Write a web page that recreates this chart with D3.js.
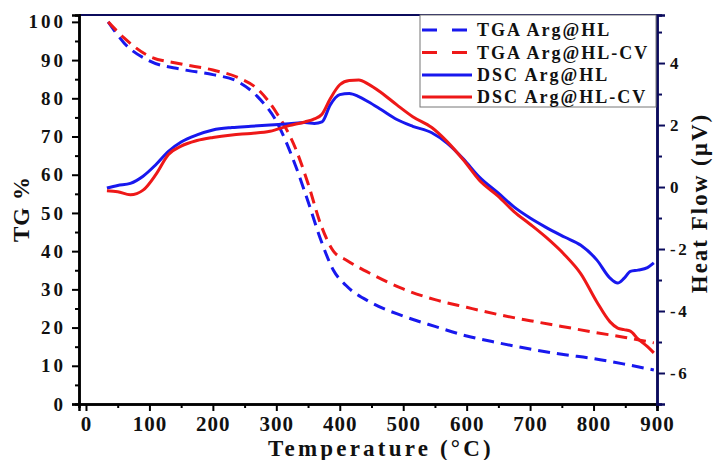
<!DOCTYPE html>
<html>
<head>
<meta charset="utf-8">
<script src="https://cdn.jsdelivr.net/npm/d3@7"></script>
<style>
  html, body { margin: 0; padding: 0; background: #fff; }
  svg { display: block; }
  text { font-family: "Liberation Serif", "Times New Roman", serif; font-weight: bold; fill: #111; }
</style>
</head>
<body>
<svg id="chart" width="713" height="460"></svg>
<script>
// TGA curves (left axis, TG %)
const tgaTemps = [35, 60, 100, 150, 200, 240, 270, 300, 330, 350, 370, 390, 410, 450, 500, 550, 600, 650, 700, 750, 800, 850, 895];
const tgaHL    = [100, 94.5, 89.8, 87.6, 86.2, 84.3, 80.5, 74, 62.5, 53, 43, 35, 31, 26.5, 23, 20.3, 17.8, 16, 14.4, 13, 11.9, 10.4, 8.9];
const tgaHLCV  = [100, 95.8, 91, 89, 87.4, 85.4, 82.5, 76.3, 67, 57.7, 47, 40, 37.7, 34, 30.1, 27.3, 25.3, 23.4, 21.8, 20.3, 18.8, 17.4, 16];

// DSC curves (right axis, heat flow in µV)
const dscTemps = [33, 50, 70, 90, 110, 130, 150, 175, 200, 230, 260, 290, 320, 345, 360, 372, 385, 400, 415, 430, 445, 465, 490, 515, 545, 570, 595, 620, 650, 675, 700, 725, 755, 780, 805, 826, 838, 848, 858, 870, 885, 895];
const dscHL    = [-0.03, 0.05, 0.12, 0.35, 0.72, 1.15, 1.45, 1.68, 1.84, 1.92, 1.96, 2.0, 2.04, 2.08, 2.05, 2.1, 2.65, 2.98, 3.02, 2.92, 2.75, 2.5, 2.18, 1.96, 1.75, 1.4, 0.9, 0.32, -0.2, -0.65, -1.0, -1.3, -1.62, -1.88, -2.35, -2.94, -3.1, -2.95, -2.72, -2.68, -2.6, -2.45];
const dscHLCV  = [-0.12, -0.15, -0.25, -0.1, 0.4, 1.05, 1.32, 1.5, 1.6, 1.68, 1.73, 1.8, 1.98, 2.1, 2.2, 2.35, 2.85, 3.3, 3.44, 3.45, 3.32, 3.05, 2.65, 2.27, 1.92, 1.45, 0.87, 0.22, -0.3, -0.8, -1.2, -1.62, -2.2, -2.8, -3.7, -4.35, -4.55, -4.6, -4.65, -4.9, -5.15, -5.35];

// Axis ticks
const xTicks = [0, 100, 200, 300, 400, 500, 600, 700, 800, 900];
const xMinor = [50, 150, 250, 350, 450, 550, 650, 750, 850];
const yLeftTicks = [0, 10, 20, 30, 40, 50, 60, 70, 80, 90, 100];
const yLeftMinor = [5, 15, 25, 35, 45, 55, 65, 75, 85, 95];
const yRightTicks = [-6, -4, -2, 0, 2, 4];
const yRightMinor = [-5, -3, -1, 1, 3, 5];

const seriesNames = ["TGA Arg@HL", "TGA Arg@HL-CV", "DSC Arg@HL", "DSC Arg@HL-CV"];

const BLUE = "#1818ee", RED = "#ee1818", NAVY = "#0b0b5c";

const svg = d3.select("#chart");
const plot = { left: 79, right: 657, top: 15, bottom: 404 };

const x = d3.scaleLinear().domain([-11, 900]).range([plot.left, plot.right]);
const yL = d3.scaleLinear().domain([0, 101.8]).range([plot.bottom, plot.top]);
const yR = d3.scaleLinear().domain([-7, 5.55]).range([plot.bottom, plot.top]);

// Curves
const tgaLine = (vals) => d3.line().x((d, i) => x(tgaTemps[i])).y(d => yL(d)).curve(d3.curveMonotoneX)(vals);
const dscLine = (vals) => d3.line().x((d, i) => x(dscTemps[i])).y(d => yR(d)).curve(d3.curveMonotoneX)(vals);

const series = [
  { name: seriesNames[0], d: tgaLine(tgaHL), color: BLUE, dash: "12,7" },
  { name: seriesNames[1], d: tgaLine(tgaHLCV), color: RED, dash: "12,7" },
  { name: seriesNames[2], d: dscLine(dscHL), color: BLUE, dash: null },
  { name: seriesNames[3], d: dscLine(dscHLCV), color: RED, dash: null }
];

svg.append("g").selectAll("path").data(series).join("path")
  .attr("d", s => s.d)
  .attr("fill", "none")
  .attr("stroke", s => s.color)
  .attr("stroke-width", 3)
  .attr("stroke-dasharray", s => s.dash)
  .attr("stroke-linejoin", "round");

// Frame: top edge in navy
svg.append("line").attr("x1", plot.left).attr("x2", plot.right).attr("y1", plot.top).attr("y2", plot.top)
  .attr("stroke", NAVY).attr("stroke-width", 2);

function styleAxis(g, color, width) {
  g.select(".domain").attr("stroke", color).attr("stroke-width", width);
  g.selectAll(".tick line").attr("stroke", color).attr("stroke-width", 2);
}

// Left axis
const gLm = svg.append("g").attr("transform", `translate(${plot.left},0)`)
  .call(d3.axisLeft(yL).tickValues(yLeftMinor).tickSize(4).tickFormat(""));
styleAxis(gLm, "#000", 2.5);
const gL = svg.append("g").attr("transform", `translate(${plot.left},0)`)
  .call(d3.axisLeft(yL).tickValues(yLeftTicks).tickSize(7).tickPadding(6).tickFormat(d3.format("d")));
styleAxis(gL, "#000", 2.5);
gL.selectAll(".tick text").attr("font-size", 19).attr("letter-spacing", 3).attr("fill", "#111")
  .attr("font-family", "Liberation Serif, serif").attr("font-weight", "bold");

// Bottom axis
const gBm = svg.append("g").attr("transform", `translate(0,${plot.bottom})`)
  .call(d3.axisBottom(x).tickValues(xMinor).tickSize(4).tickFormat(""));
styleAxis(gBm, "#000", 2.5);
const gB = svg.append("g").attr("transform", `translate(0,${plot.bottom})`)
  .call(d3.axisBottom(x).tickValues(xTicks).tickSize(7).tickPadding(5).tickFormat(d3.format("d")));
styleAxis(gB, "#000", 2.5);
gB.selectAll(".tick text").attr("font-size", 21).attr("letter-spacing", 1).attr("fill", "#111")
  .attr("font-family", "Liberation Serif, serif").attr("font-weight", "bold");

// Right axis
const gRm = svg.append("g").attr("transform", `translate(${plot.right},0)`)
  .call(d3.axisRight(yR).tickValues(yRightMinor).tickSize(5).tickFormat(""));
styleAxis(gRm, NAVY, 2.5);
const gR = svg.append("g").attr("transform", `translate(${plot.right},0)`)
  .call(d3.axisRight(yR).tickValues(yRightTicks).tickSize(8).tickPadding(5).tickFormat(d => String(d)));
styleAxis(gR, NAVY, 2.5);
gR.selectAll(".tick text").attr("font-size", 17).attr("letter-spacing", 2.5).attr("fill", "#111")
  .attr("font-family", "Liberation Serif, serif").attr("font-weight", "bold");

// Axis titles
svg.append("text").attr("x", 381).attr("y", 456).attr("text-anchor", "middle")
  .attr("font-size", 23).attr("letter-spacing", 3.2).text("Temperature (°C)");
svg.append("text").attr("transform", "translate(29,209) rotate(-90)").attr("text-anchor", "middle")
  .attr("font-size", 23).attr("letter-spacing", 1).text("TG %");
svg.append("text").attr("transform", "translate(707,203) rotate(-90)").attr("text-anchor", "middle")
  .attr("font-size", 23).attr("letter-spacing", 2).text("Heat Flow (µV)");

// Legend
const legend = svg.append("g");
legend.append("rect").attr("x", 420).attr("y", 15).attr("width", 236).attr("height", 92)
  .attr("fill", "#fff").attr("stroke", "#777").attr("stroke-width", 1);
const rowY = [30, 52.5, 75, 97];
const rows = legend.selectAll("g.row").data(series).join("g").attr("class", "row")
  .attr("transform", (s, i) => `translate(0,${rowY[i]})`);
rows.append("line").attr("x1", 422).attr("x2", 472).attr("y1", 0).attr("y2", 0)
  .attr("stroke", s => s.color).attr("stroke-width", 3)
  .attr("stroke-dasharray", s => s.dash ? "15,15" : null);
rows.append("text").attr("x", 477).attr("y", 6).attr("font-size", 18).attr("letter-spacing", 2)
  .text(s => s.name);
</script>
</body>
</html>
